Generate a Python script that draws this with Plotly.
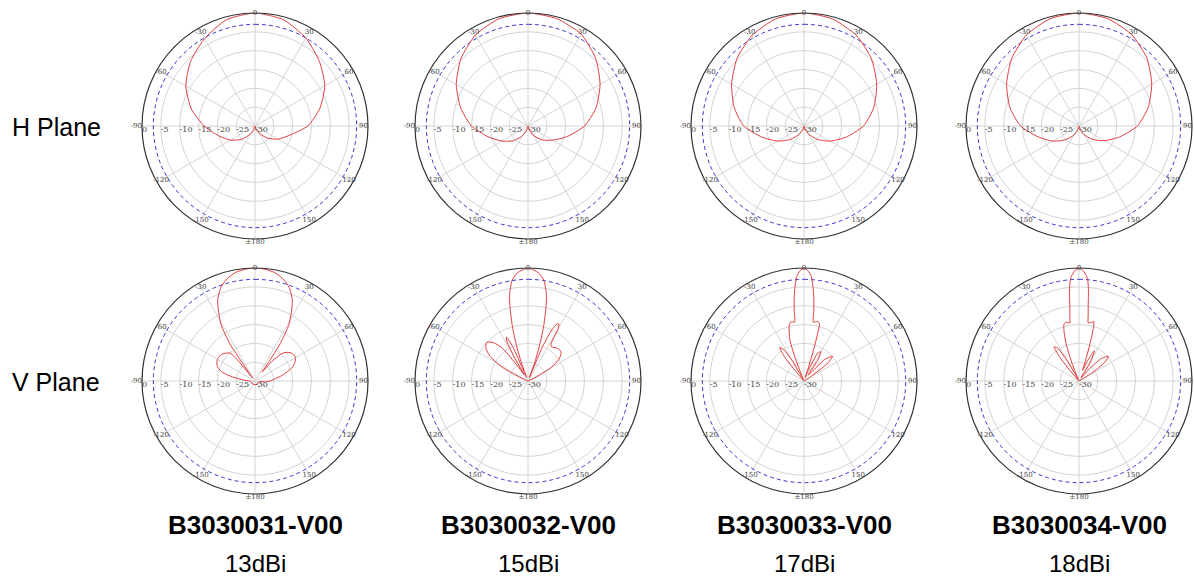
import plotly.graph_objects as go

# ---------------- data ----------------
ROW_LABELS = ["H Plane", "V Plane"]
MODELS = ["B3030031-V00", "B3030032-V00", "B3030033-V00", "B3030034-V00"]
GAINS = ["13dBi", "15dBi", "17dBi", "18dBi"]

ANG_TICKS = [0, 30, 60, 90, 120, 150, 180, 210, 240, 270, 300, 330]
ANG_LABELS = ["0", "30", "60", "90", "120", "150", "±180", "-150", "-120", "-90", "-60", "-30"]
RAD_TICKS = [0, -5, -10, -15, -20, -25, -30]
RAD_LABELS = ["0", "-5", "-10", "-15", "-20", "-25", "-30"]
HALF_POWER_DB = -3

# H plane patterns (theta in degrees, level in dB)
H_THETA = [-180, -165, -150, -135, -120, -105, -90, -75, -60, -45, -30, -15, 0,
           15, 30, 45, 60, 75, 90, 105, 120, 135, 150, 165, 180]
H1_DB = [-30, -29, -27.5, -25, -22.5, -20, -16.5, -12.5, -8.8, -5.8, -3.2, -0.8, 0,
         -0.8, -3.0, -5.8, -8.6, -12.2, -16.0, -20.5, -23, -25.5, -27.8, -29.2, -30]
H2_DB = [-30, -29, -27, -24.5, -22, -19, -15, -11.5, -8, -4.8, -2.1, -0.5, 0,
         -0.5, -1.8, -4.6, -7.9, -11.3, -15, -19.2, -22.5, -24.8, -27.2, -29, -30]
H3_DB = [-30, -29.2, -27.5, -25, -22, -18.5, -14, -10.8, -7.8, -4.8, -2.3, -0.6, 0,
         -0.6, -2.2, -4.7, -7.7, -10.8, -14.2, -18.5, -22, -25, -27.5, -29.2, -30]
H4_DB = [-30, -29, -27.2, -24.8, -22, -18.8, -14.5, -11, -7.8, -4.7, -2.1, -0.5, 0,
         -0.5, -2.0, -4.5, -7.7, -11, -14.5, -18.8, -22.2, -25, -27.4, -29.1, -30]

# V plane patterns
V1_THETA = [-180, -150, -120, -100, -90, -85, -80, -75, -70, -65, -60, -55, -50, -45, -42,
            -40, -38, -36, -34, -31, -28, -25, -20, -15, -10, -5, 0, 5, 10, 15, 20, 25, 28,
            31, 34, 36, 38, 41, 45, 50, 55, 60, 65, 70, 78, 85, 90, 95, 100, 120, 150, 180]
V1_DB = [-29, -29, -29, -29, -28.5, -27, -24, -21, -19.5, -18.8, -18.5, -18.5, -18.8, -19.5, -20,
         -22, -29, -27, -18, -12.5, -9.5, -6.5, -3.5, -1.8, -0.7, -0.2, 0, -0.2, -0.7, -1.8, -3.5, -6.5, -9.5,
         -12.5, -18, -24, -27, -23, -19.5, -18.2, -17.6, -17.6, -18.3, -19.5, -22.5, -25, -26, -27.5, -29, -29, -29, -29]

V2_THETA = [-180, -90, -70, -66, -62, -57, -52, -47, -42, -38, -35, -32, -30, -28, -26, -24,
            -21.5, -20, -18, -16, -14, -12, -9, -6, -3, 0, 3, 6, 9, 12, 14, 16, 18, 20, 21.5,
            23, 25, 27, 28.5, 30, 32, 35, 40, 45, 50, 55, 60, 65, 70, 90, 180]
V2_DB = [-30, -30, -30, -28, -22.5, -18, -15.8, -15, -16.3, -19, -25, -28, -23, -18, -17, -20,
         -29, -25, -20, -15, -10.5, -6.5, -3, -1.3, -0.5, 0, -0.5, -1.3, -3, -6.5, -10.5, -15, -20, -25, -29,
         -20, -15, -13, -12.8, -14, -18.5, -19, -18.5, -18.2, -18.5, -20, -23, -28, -30, -30, -30]

V3_THETA = [-180, -90, -45, -42, -39, -36, -33, -30, -27, -24, -22, -21, -20, -19, -17, -15,
            -13, -11, -9, -8, -7, -6, -5, -4, -2, 0, 2, 4, 5, 6, 7, 8, 9, 11, 13, 15, 16, 17,
            18, 19, 22, 26, 30, 33, 36, 40, 44, 49, 53, 57, 60, 90, 180]
V3_DB = [-30, -30, -30, -29, -22, -19, -20, -24, -29, -29.5, -28, -24, -21, -18.5, -16.5, -14.8,
         -14, -14, -14.2, -11.5, -8.5, -6, -4, -2.2, -0.7, 0, -0.7, -2.2, -4, -6, -8.5, -11.5, -14.2, -14, -13.8, -14.2, -17, -21,
         -26, -29, -27, -22, -21, -23, -28, -27, -22, -20, -22, -28, -30, -30, -30]

V4_THETA = [-180, -90, -45, -42, -39, -36, -33, -30, -27, -24, -22, -21, -19, -17, -15, -13,
            -11, -9, -8, -7, -6, -5, -4, -2, 0, 2, 4, 5, 6, 7, 8, 9, 11, 13, 14, 15, 16,
            17, 19, 23, 27, 31, 35, 40, 45, 50, 54, 58, 62, 90, 180]
V4_DB = [-30, -30, -30, -28.5, -22, -18.8, -19.5, -24, -29, -29.5, -27, -23.5, -19.5, -16.5, -14.5, -14,
         -14.2, -14.4, -12.5, -10, -6, -3.2, -2, -0.6, 0, -0.6, -2, -3.2, -6, -10, -12.5, -14.4, -14.2, -13.9, -13.7, -15, -18,
         -22, -27, -24, -21, -24, -29, -26, -21.5, -19.8, -21.5, -26, -30, -30, -30]

H_PATTERNS = [H1_DB, H2_DB, H3_DB, H4_DB]
V_PATTERNS = [(V1_THETA, V1_DB), (V2_THETA, V2_DB), (V3_THETA, V3_DB), (V4_THETA, V4_DB)]
CIRCLE_THETA = list(range(0, 361, 3))

# ---------------- layout ----------------
W, HGT = 1194, 582
COL_CX = [255, 528, 804, 1079]
ROW_CY = [126, 381]
RADIUS = 113
TICK_FONT = dict(size=7, color="#444", family="DejaVu Serif")

# angular label placement (just inside ring; 0 on ring, ±180 and -90 outside)
def _ang_r(t):
    return 0 if t in (0, 180, 270) else -1.2

def _ang_pos(t):
    if t == 270:
        return "middle left"
    if t == 180:
        return "bottom center"
    return "middle center"

ang_r = [_ang_r(t) for t in ANG_TICKS]
ang_pos = [_ang_pos(t) for t in ANG_TICKS]

fig = go.Figure()
layout_polars = {}

def subplot_ref(i):
    return "polar" if i == 0 else f"polar{i + 1}"

idx = 0
for row in range(2):
    for col in range(4):
        cx, cy = COL_CX[col], ROW_CY[row]
        dom_x = [(cx - RADIUS) / W, (cx + RADIUS) / W]
        dom_y = [1 - (cy + RADIUS) / HGT, 1 - (cy - RADIUS) / HGT]
        sp = subplot_ref(idx)
        layout_polars[sp] = dict(
            domain=dict(x=dom_x, y=dom_y),
            bgcolor="white",
            angularaxis=dict(
                rotation=90, direction="clockwise",
                tickmode="array", tickvals=ANG_TICKS,
                showticklabels=False, ticks="",
                showline=True, linecolor="#333", linewidth=1.2,
                gridcolor="#d4d4d4", gridwidth=1,
            ),
            radialaxis=dict(
                range=[-30, 0], angle=180,
                tickmode="array", tickvals=RAD_TICKS,
                showticklabels=False, ticks="",
                showline=False, gridcolor="#d4d4d4", gridwidth=1,
            ),
        )
        # half-power dashed circle
        fig.add_trace(go.Scatterpolar(
            r=[HALF_POWER_DB] * len(CIRCLE_THETA), theta=CIRCLE_THETA,
            mode="lines", line=dict(color="#3a3ad0", width=1, dash="4px,3px"),
            subplot=sp, showlegend=False, hoverinfo="skip"))
        if row == 0:
            th, rr = H_THETA, H_PATTERNS[col]
        else:
            th, rr = V_PATTERNS[col]
        fig.add_trace(go.Scatterpolar(
            r=rr, theta=th, mode="lines",
            line=dict(color="#e03c3c", width=1, shape="spline", smoothing=0.6),
            subplot=sp, showlegend=False))
        # angular tick labels on the ring
        fig.add_trace(go.Scatterpolar(
            r=ang_r, theta=ANG_TICKS, text=ANG_LABELS,
            mode="text", textposition=ang_pos, cliponaxis=False,
            textfont=TICK_FONT, subplot=sp, showlegend=False, hoverinfo="skip"))
        # radial tick labels along the left horizontal radius
        fig.add_trace(go.Scatterpolar(
            r=RAD_TICKS, theta=[270] * len(RAD_TICKS), text=RAD_LABELS,
            mode="text", textposition="bottom right", cliponaxis=False,
            textfont=dict(size=8, color="#444", family="DejaVu Serif"),
            subplot=sp, showlegend=False, hoverinfo="skip"))
        idx += 1

annotations = []
LABEL_FONT = "Liberation Sans, Arial"
for row in range(2):
    annotations.append(dict(
        text=ROW_LABELS[row], x=10 / W, y=1 - (ROW_CY[row] + 1) / HGT,
        xref="paper", yref="paper", xanchor="left", yanchor="middle",
        showarrow=False, font=dict(size=25, color="black", family=LABEL_FONT)))
for col in range(4):
    annotations.append(dict(
        text="<b>" + MODELS[col] + "</b>", x=COL_CX[col] / W, y=1 - 525 / HGT,
        xref="paper", yref="paper", xanchor="center", yanchor="middle",
        showarrow=False, font=dict(size=26, color="black", family=LABEL_FONT)))
    annotations.append(dict(
        text=GAINS[col], x=COL_CX[col] / W, y=1 - 563 / HGT,
        xref="paper", yref="paper", xanchor="center", yanchor="middle",
        showarrow=False, font=dict(size=24, color="black", family=LABEL_FONT)))

fig.update_layout(
    width=W, height=HGT,
    margin=dict(l=0, r=0, t=0, b=0),
    paper_bgcolor="white", plot_bgcolor="white",
    showlegend=False,
    annotations=annotations,
    **layout_polars,
)

fig.write_html("out.html", config={"displayModeBar": False},
               post_script="document.body.style.margin='0px';")
